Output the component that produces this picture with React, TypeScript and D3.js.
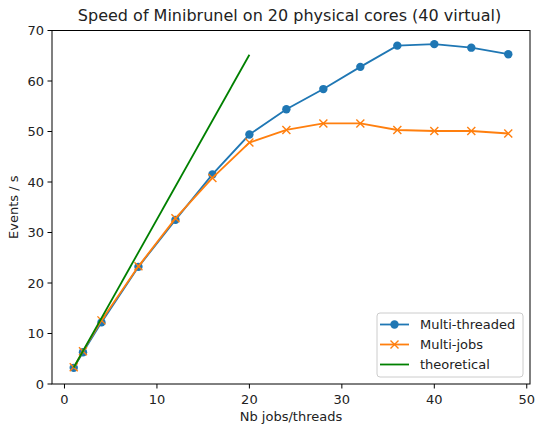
import React from "react";
import * as d3 from "d3";

const threads = [1, 2, 4, 8, 12, 16, 20, 24, 28, 32, 36, 40, 44, 48];
const multiThreaded = [3.2, 6.3, 12.2, 23.2, 32.5, 41.5, 49.4, 54.4, 58.4, 62.8, 67.0, 67.3, 66.6, 65.3];
const multiJobs = [3.3, 6.5, 12.6, 23.3, 32.8, 40.8, 47.8, 50.3, 51.6, 51.6, 50.3, 50.1, 50.1, 49.6];
const theoreticalX = [1, 20];
const theoreticalY = [3.26, 65.2];
const xTicks = [0, 10, 20, 30, 40, 50];
const yTicks = [0, 10, 20, 30, 40, 50, 60, 70];
const seriesNames = ["Multi-threaded", "Multi-jobs", "theoretical"];

const W = 535, H = 425;
const L = 52, R = 530, T = 30.5, B = 384;
const FONT = "DejaVu Sans, sans-serif";
const BLUE = "#1f77b4", ORANGE = "#ff7f0e", GREEN = "#008000";
const FS = 13;

export default function App() {
  const x = d3.scaleLinear().domain([-1.35, 50.35]).range([L, R]);
  const y = d3.scaleLinear().domain([0, 70]).range([B, T]);
  const line = d3.line<[number, number]>().x(d => x(d[0])).y(d => y(d[1]));
  const mt = threads.map((t, i) => [t, multiThreaded[i]] as [number, number]);
  const mj = threads.map((t, i) => [t, multiJobs[i]] as [number, number]);
  const th = theoreticalX.map((t, i) => [t, theoreticalY[i]] as [number, number]);
  const xm = 4;
  const lx = 377, ly = 313;
  return (
    <svg width={W} height={H} style={{ position: "absolute", left: 0, top: 0, background: "#fff" }} fontFamily={FONT}>
      <rect x={0} y={0} width={W} height={H} fill="#fff" />
      <text x={289.5} y={20.5} textAnchor="middle" fontSize={16} fill="#222">
        Speed of Minibrunel on 20 physical cores (40 virtual)
      </text>
      <path d={line(mt) || ""} fill="none" stroke={BLUE} strokeWidth={1.8} />
      {mt.map((d, i) => (
        <circle key={"c" + i} cx={x(d[0])} cy={y(d[1])} r={4.2} fill={BLUE} />
      ))}
      <path d={line(mj) || ""} fill="none" stroke={ORANGE} strokeWidth={1.8} />
      {mj.map((d, i) => (
        <path key={"x" + i} d={`M${x(d[0]) - xm},${y(d[1]) - xm}L${x(d[0]) + xm},${y(d[1]) + xm}M${x(d[0]) - xm},${y(d[1]) + xm}L${x(d[0]) + xm},${y(d[1]) - xm}`} stroke={ORANGE} strokeWidth={1.4} />
      ))}
      <path d={line(th) || ""} fill="none" stroke={GREEN} strokeWidth={1.8} />
      <rect x={L} y={T} width={R - L} height={B - T} fill="none" stroke="#000" strokeWidth={1} />
      {xTicks.map(t => (
        <g key={"xt" + t}>
          <line x1={x(t)} x2={x(t)} y1={B} y2={B + 4.5} stroke="#000" />
          <text x={x(t)} y={B + 20} textAnchor="middle" fontSize={FS} fill="#222">{t}</text>
        </g>
      ))}
      {yTicks.map(t => (
        <g key={"yt" + t}>
          <line x1={L - 4.5} x2={L} y1={y(t)} y2={y(t)} stroke="#000" />
          <text x={L - 8} y={y(t) + 4.7} textAnchor="end" fontSize={FS} fill="#222">{t}</text>
        </g>
      ))}
      <text x={(L + R) / 2} y={421} textAnchor="middle" fontSize={FS} fill="#222">Nb jobs/threads</text>
      <text transform={`translate(18,${(T + B) / 2}) rotate(-90)`} textAnchor="middle" fontSize={FS} fill="#222">Events / s</text>
      <rect x={lx} y={ly} width={146} height={64} rx={3} fill="#fff" fillOpacity={0.8} stroke="#ccc" />
      {seriesNames.map((n, i) => {
        const yy = ly + 11.5 + i * 20;
        const col = [BLUE, ORANGE, GREEN][i];
        const cx = lx + 17.5;
        return (
          <g key={n}>
            <line x1={lx + 3} x2={lx + 32} y1={yy} y2={yy} stroke={col} strokeWidth={1.8} />
            {i === 0 && <circle cx={cx} cy={yy} r={4.2} fill={BLUE} />}
            {i === 1 && <path d={`M${cx - xm},${yy - xm}L${cx + xm},${yy + xm}M${cx - xm},${yy + xm}L${cx + xm},${yy - xm}`} stroke={ORANGE} strokeWidth={1.4} />}
            <text x={lx + 43} y={yy + 4.7} fontSize={FS} fill="#222">{n}</text>
          </g>
        );
      })}
    </svg>
  );
}
